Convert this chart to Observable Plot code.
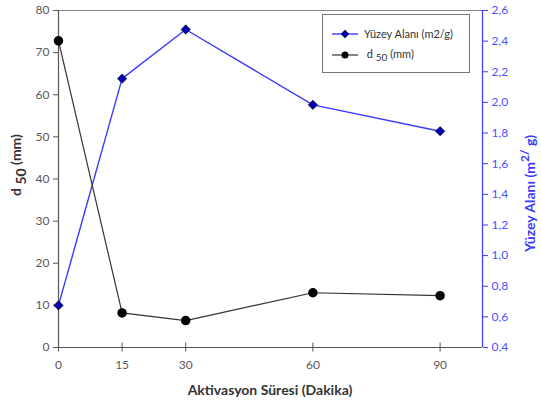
<!DOCTYPE html>
<html><head><meta charset="utf-8">
<script src="https://cdn.jsdelivr.net/npm/d3@7"></script>
<script src="https://cdn.jsdelivr.net/npm/@observablehq/plot@0.6"></script>
<style>
body{margin:0;background:#fff;}
#wrap{position:relative;width:541px;height:406px;overflow:hidden;font-family:Lato,"Open Sans",sans-serif;}
#legend{position:absolute;left:322px;top:14px;width:146px;height:57px;border:1px solid #777;background:#fff;font-size:11px;color:#333;}
.row{position:absolute;left:9px;display:flex;align-items:center;}
.row svg{margin-right:6px}
</style>
</head><body><div id="wrap"></div>
<script>
const minutes = [0, 15, 30, 60, 90];
const d50 = [72.8, 8.2, 6.4, 13.0, 12.3];
const surfaceArea = [0.675, 2.155, 2.476, 1.984, 1.812];
const xTicks = [0, 15, 30, 60, 90];
const leftTicks = [0, 10, 20, 30, 40, 50, 60, 70, 80];
const rightTicks = [0.4, 0.6, 0.8, 1.0, 1.2, 1.4, 1.6, 1.8, 2.0, 2.2, 2.4, 2.6];
const rightTickLabels = ["0,4","0,6","0,8","1,0","1,2","1,4","1,6","1,8","2,0","2,2","2,4","2,6"];

const rMin = 0.4, rMax = 2.6, lMax = 80;
const toLeft = v => (v - rMin) / (rMax - rMin) * lMax;

const dData = minutes.map((m, i) => ({m, v: d50[i]}));
const sData = minutes.map((m, i) => ({m, v: toLeft(surfaceArea[i])}));
const rTickPos = rightTicks.map(toLeft);

const blue = "#3a3aff";
const grey = "#555";

const chart = Plot.plot({
  width: 541, height: 406,
  marginLeft: 58, marginRight: 59, marginTop: 10, marginBottom: 59,
  style: {fontFamily: "Lato, 'Open Sans', sans-serif", fontSize: "12px", background: "#fff"},
  x: {domain: [0, 100]},
  y: {domain: [0, lMax]},
  marks: [
    Plot.ruleY([lMax], {stroke: "#8a8a8a", strokeWidth: 1.2}),
    Plot.axisY(leftTicks, {anchor: "left", tickSize: 5, tickPadding: 4, stroke: grey, fill: "#5a5a5a", fontSize: 12, label: null}),
    Plot.ruleX([0], {stroke: grey, strokeWidth: 1.2}),
    Plot.axisY(rTickPos, {anchor: "right", tickSize: 5, tickPadding: 4, stroke: blue, fill: "#4f4fff", fontSize: 12, label: null,
      tickFormat: (d) => rightTickLabels[rTickPos.indexOf(d)]}),
    Plot.ruleX([100], {stroke: blue, strokeWidth: 1.2}),
    Plot.axisX(xTicks, {anchor: "bottom", tickSize: 9, dy: -4.5, tickPadding: 8, stroke: grey, fill: "#5a5a5a", fontSize: 12, label: null}),
    Plot.ruleY([0], {stroke: grey, strokeWidth: 1.2}),
    Plot.line(sData, {x: "m", y: "v", stroke: blue, strokeWidth: 1.4}),
    Plot.dot(sData, {x: "m", y: "v", symbol: "diamond2", r: 4.2, fill: "#0000b0", stroke: "#111", strokeWidth: 0.7}),
    Plot.line(dData, {x: "m", y: "v", stroke: "#333", strokeWidth: 1.2}),
    Plot.dot(dData, {x: "m", y: "v", r: 4, fill: "#000", stroke: "#000"})
  ]
});

const svg = d3.select(chart);
svg.append("text").attr("x", 270).attr("y", 395).attr("text-anchor", "middle")
  .attr("font-size", 14).attr("font-weight", "bold").attr("fill", "#333")
  .text("Aktivasyon Süresi (Dakika)");

const lt = svg.append("text").attr("transform", "translate(21,165) rotate(-90)").attr("text-anchor", "middle")
  .attr("font-size", 14).attr("font-weight", "bold").attr("fill", "#333");
lt.append("tspan").text("d ");
lt.append("tspan").attr("dy", 5).text("50");
lt.append("tspan").attr("dy", -5).text(" (mm)");

const rt = svg.append("text").attr("transform", "translate(535,252) rotate(-90)").attr("text-anchor", "start")
  .attr("font-size", 14).attr("font-weight", "bold").attr("fill", blue);
rt.append("tspan").text("Yüzey Alanı (m");
rt.append("tspan").attr("dy", -6).attr("font-size", 12).text("2/");
rt.append("tspan").attr("dy", 6).text(" g)");

const wrap = document.getElementById("wrap");
wrap.appendChild(chart);

const legend = document.createElement("div");
legend.id = "legend";
legend.innerHTML = `
<div class="row" style="top:12px"><svg width="26" height="10"><line x1="0" y1="5" x2="26" y2="5" stroke="${blue}" stroke-width="1.4"/><path d="M13,1 L17,5 L13,9 L9,5Z" fill="#0000b0" stroke="#111" stroke-width="0.6"/></svg><span>Yüzey Alanı (m2/g)</span></div>
<div class="row" style="top:32px"><svg width="26" height="10"><line x1="0" y1="5" x2="26" y2="5" stroke="#333" stroke-width="1.2"/><circle cx="13" cy="5" r="3.5" fill="#000"/></svg><span>&nbsp;d <sub style="font-size:10px">50</sub> (mm)</span></div>`;
wrap.appendChild(legend);
</script>
</body></html>
